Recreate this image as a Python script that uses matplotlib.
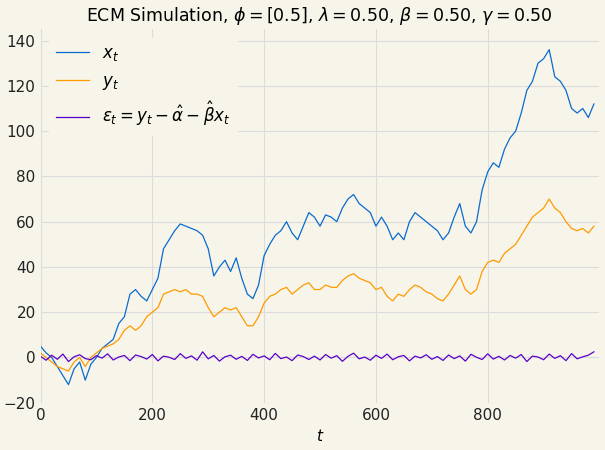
import numpy as np
import matplotlib.pyplot as plt

t = np.arange(0, 1000, 10)

x_t = [5, 2, 0, -4, -8, -12, -5, -2, -10, -3,
       0, 4, 6, 8, 15, 18, 28, 30, 27, 25,
       30, 35, 48, 52, 56, 59, 58, 57, 56, 54,
       48, 36, 40, 43, 38, 44, 35, 28, 26, 32,
       45, 50, 54, 56, 60, 55, 52, 58, 64, 62,
       58, 63, 62, 60, 66, 70, 72, 68, 66, 64,
       58, 62, 58, 52, 55, 52, 60, 64, 62, 60,
       58, 56, 52, 55, 62, 68, 58, 55, 60, 74,
       82, 86, 84, 92, 97, 100, 108, 118, 122, 130,
       132, 136, 124, 122, 118, 110, 108, 110, 106, 112]

y_t = [2, 0, -2, -4, -5, -6, -2, 0, -4, 0,
       2, 4, 5, 6, 8, 12, 14, 12, 14, 18,
       20, 22, 28, 29, 30, 29, 30, 28, 28, 27,
       22, 18, 20, 22, 21, 22, 18, 14, 14, 18,
       24, 27, 28, 30, 31, 28, 30, 32, 33, 30,
       30, 32, 31, 31, 34, 36, 37, 35, 34, 33,
       30, 31, 27, 25, 28, 27, 30, 32, 31, 29,
       28, 26, 25, 28, 32, 36, 30, 28, 30, 38,
       42, 43, 42, 46, 48, 50, 54, 58, 62, 64,
       66, 70, 66, 64, 60, 57, 56, 57, 55, 58]

eps = [0.5, -1.2, 1.0, -0.8, 1.5, -1.8, 0.3, 1.2, -0.5, -1.0,
       0.8, -0.3, 1.6, -1.1, 0.2, 0.9, -1.4, 1.1, 0.4, -0.7,
       1.3, -1.5, 0.6, 0.1, -0.9, 1.7, -0.4, 0.7, -1.2, 2.5,
       -0.6, 0.9, -1.6, 0.3, 1.0, -0.8, 0.5, -1.3, 1.4, -0.2,
       0.7, -1.0, 1.8, -0.5, 0.2, -1.4, 1.1, 0.4, -0.9, 0.6,
       -1.1, 1.3, -0.3, 0.8, -1.7, 0.5, 1.9, -0.6, 0.2, -1.2,
       1.0, -0.4, 1.5, -1.0, 0.3, 0.9, -1.5, 0.6, -0.2, 1.2,
       -0.8, 0.4, -1.3, 1.1, -0.5, 0.7, -1.6, 1.4, 0.1, -0.9,
       1.6, -0.7, 0.5, -1.1, 0.9, -0.3, 1.3, -1.8, 0.6, 0.2,
       -1.0, 1.5, -0.4, 0.8, -1.4, 1.7, -0.6, 0.3, 1.0, 2.5]

bg = '#f7f5e9'
fig, ax = plt.subplots(figsize=(6.05, 4.5), dpi=100)
fig.patch.set_facecolor(bg)
ax.set_facecolor(bg)

ax.plot(t, x_t, color='#0a6bd0', lw=0.9, label=r'$x_t$')
ax.plot(t, y_t, color='#ff9a00', lw=0.9, label=r'$y_t$')
ax.plot(t, eps, color='#5a00c8', lw=0.9,
        label=r'$\varepsilon_t = y_t - \hat{\alpha} - \hat{\beta} x_t$')

ax.set_xlim(0, 999)
ax.set_ylim(-20, 145)
ax.set_xticks([0, 200, 400, 600, 800])
ax.set_yticks([-20, 0, 20, 40, 60, 80, 100, 120, 140])
ax.grid(True, color='#dcdcdc', lw=0.8)
for s in ax.spines.values():
    s.set_visible(False)
ax.tick_params(length=0, labelsize=11, colors='#222222')
ax.set_xlabel(r'$t$', fontsize=11)
ax.set_title(r'ECM Simulation, $\phi = [0.5]$, $\lambda = 0.50$, $\beta = 0.50$, $\gamma = 0.50$',
             fontsize=12.5)
leg = ax.legend(loc='upper left', fontsize=12, frameon=True, facecolor=bg,
                edgecolor=bg, framealpha=1)

fig.subplots_adjust(left=0.067, right=0.99, top=0.935, bottom=0.105)
fig.savefig('out.png', dpi=100, facecolor=bg)
